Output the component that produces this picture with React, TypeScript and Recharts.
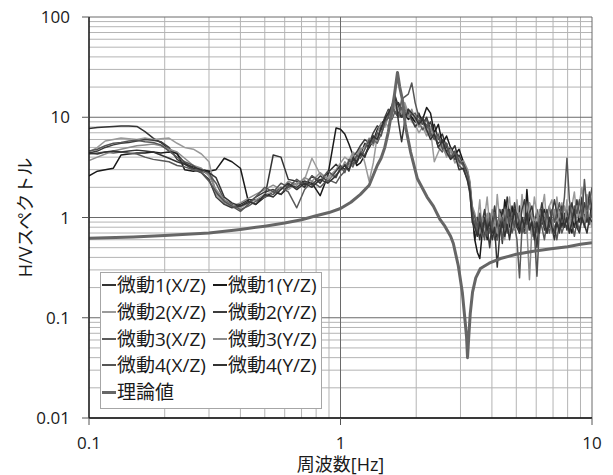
import React from 'react';
import { LineChart, Line, XAxis, YAxis, CartesianGrid, Legend } from 'recharts';

const FONT = "'Open Sans', 'Noto Sans CJK JP', sans-serif";

// frequency samples [Hz]
const freqs = [
  0.1, 0.108, 0.116, 0.125, 0.134, 0.144, 0.155, 0.167, 0.18, 0.193, 0.208, 0.224, 0.24, 0.26, 0.28, 0.3,
  0.32, 0.345, 0.37, 0.4, 0.43, 0.46, 0.5, 0.54, 0.58, 0.62, 0.67, 0.72, 0.77, 0.83, 0.89, 0.96,
  1.0, 1.04, 1.08, 1.12, 1.16, 1.2, 1.25, 1.3, 1.35, 1.4, 1.45, 1.5, 1.55, 1.6, 1.65, 1.7, 1.75, 1.8,
  1.86, 1.92, 1.98, 2.05, 2.12, 2.2, 2.28, 2.36, 2.45, 2.54, 2.64, 2.74, 2.85, 2.96, 3.08,
  3.2, 3.27, 3.34, 3.42, 3.5, 3.58, 3.66, 3.74, 3.83, 3.92, 4.01, 4.1, 4.2, 4.3, 4.4, 4.5, 4.6, 4.7, 4.81, 4.92,
  5.03, 5.15, 5.27, 5.39, 5.51, 5.64, 5.77, 5.9, 6.04, 6.18, 6.32, 6.47, 6.62, 6.77, 6.93, 7.09, 7.25, 7.42, 7.59, 7.77,
  7.95, 8.13, 8.32, 8.51, 8.71, 8.91, 9.12, 9.33, 9.55, 9.77, 10,
];

// 微動1(X/Z)
const d1 = [
  7.7, 7.9, 8.0, 8.1, 8.2, 8.2, 8.1, 7.2, 6.2, 5.6, 4.8, 4.3, 3.5, 3.1, 3.0, 2.9, 1.8, 1.4, 1.3, 1.35, 1.5, 1.5, 1.6, 4.2, 4.0, 2.4, 2.3, 2.0, 2.6, 2.2, 2.8, 3.4,
  3.0, 3.4, 3.0, 3.8, 3.5, 4.2, 5.5, 5.0, 6.5, 6.0, 8.0, 9.0, 10.5, 11, 12.5, 14, 12, 10, 11.5, 10, 9, 11, 8.5, 10, 7.5, 8.5, 6, 6.8, 5, 4.5, 5.2, 3.6, 3.4,
  2.6, 2.0, 1.1, 0.6, 0.8, 0.6, 0.95, 0.65, 0.8, 1.1, 0.75, 0.9, 0.6, 0.85, 1.2, 0.9, 1.6, 1.0, 0.75, 1.1,
  0.8, 1.3, 0.9, 0.7, 1.0, 1.4, 0.9, 0.8, 1.2, 0.9, 1.1, 0.75, 1.0, 1.3, 0.85, 0.7, 1.0, 1.2, 0.8, 1.1,
  0.9, 1.3, 0.95, 0.8, 1.2, 0.9, 1.6, 1.0, 1.3, 0.9, 1.4,
];
// 微動1(Y/Z)
const d2 = [
  2.6, 2.9, 3.0, 3.1, 4.2, 4.3, 4.4, 4.4, 4.5, 4.4, 4.5, 4.4, 3.0, 2.9, 3.0, 2.9, 3.0, 3.9, 3.6, 3.1, 1.45, 1.35, 1.6, 1.8, 1.7, 2.0, 2.2, 2.3, 2.2, 1.65, 2.6, 7.8,
  7.6, 6.8, 5.4, 4.2, 3.3, 3.5, 4.2, 5.0, 5.8, 7.5, 8.5, 9.5, 11, 12, 13, 11, 10, 11, 9.5, 10, 9, 10.5, 9.5, 12.5, 11, 7, 8.5, 5.5, 6.5, 5, 4.2, 4.8, 3.6,
  2.8, 2.2, 1.2, 0.6, 0.45, 0.39, 0.7, 0.9, 0.6, 0.85, 0.7, 1.0, 0.75, 1.2, 0.8, 1.5, 1.1, 0.8, 1.3, 0.9,
  1.1, 0.7, 1.0, 0.8, 1.9, 0.9, 0.75, 1.0, 0.8, 1.1, 0.85, 1.2, 0.7, 0.95, 0.8, 1.1, 0.9, 0.75, 1.0, 0.8,
  1.2, 0.85, 0.7, 1.0, 0.8, 1.1, 0.9, 1.3, 0.9, 1.5, 1.0,
];
// 微動2(X/Z)
const d3 = [
  4.5, 5.0, 5.8, 6.0, 6.2, 6.1, 6.0, 6.2, 6.0, 6.1, 6.2, 5.5, 5.0, 4.8, 4.3, 3.6, 1.7, 1.4, 1.3, 1.25, 1.4, 1.5, 1.7, 1.8, 2.0, 1.9, 2.2, 2.4, 3.9, 2.7, 2.5, 3.0,
  3.5, 4.0, 3.7, 4.5, 4.2, 5.0, 3.5, 2.3, 3.5, 6.5, 7.5, 9.0, 8, 11, 13, 10, 12, 14, 11, 9, 8.5, 7, 8, 6.5, 7.5, 3.6, 4.5, 5.5, 4, 4.6, 3.5, 4.0, 3.2,
  2.5, 1.9, 1.3, 0.75, 0.9, 1.5, 0.7, 1.0, 1.6, 0.8, 1.1, 0.7, 1.7, 0.9, 1.0, 0.6, 1.2, 1.6, 0.75, 1.0,
  1.5, 0.8, 1.7, 1.0, 0.7, 1.4, 0.9, 1.6, 1.1, 0.7, 1.2, 1.7, 0.8, 1.3, 1.5, 0.9, 1.6, 1.0, 1.4, 0.8,
  1.5, 0.9, 1.3, 1.8, 1.0, 1.4, 2.0, 1.1, 1.7, 1.2, 1.6,
];
// 微動2(Y/Z)
const d4 = [
  4.4, 4.6, 5.0, 5.3, 5.5, 5.6, 5.8, 6.0, 5.9, 5.7, 5.0, 3.8, 3.4, 3.0, 2.8, 2.4, 1.6, 1.35, 1.25, 1.3, 1.4, 1.6, 1.8, 1.9, 1.7, 2.1, 2.0, 2.3, 2.1, 2.6, 2.3, 2.9,
  3.3, 3.0, 3.6, 4.0, 4.5, 5.2, 6.0, 5.5, 7.0, 8.2, 7.5, 10, 12, 11, 16, 13, 10, 12, 11, 9.5, 8, 9, 10, 8, 9, 6.5, 5.5, 6, 4.5, 5, 3.8, 4.2, 3.4,
  2.9, 2.1, 1.1, 0.8, 1.0, 0.7, 0.9, 1.2, 0.8, 0.5, 0.9, 1.3, 0.8, 1.0, 0.55, 1.1, 0.8, 1.2, 0.9, 1.4,
  1.0, 0.8, 1.2, 1.5, 0.9, 1.1, 1.3, 0.9, 0.5, 1.0, 1.4, 1.0, 1.2, 0.8, 1.1, 1.5, 1.1, 0.9, 1.3, 1.0,
  0.75, 1.1, 1.4, 1.0, 1.5, 1.1, 0.9, 1.4, 1.1, 1.8, 1.2,
];
// 微動3(X/Z)
const d5 = [
  4.3, 4.4, 4.5, 4.4, 4.5, 4.4, 4.3, 4.0, 3.8, 3.7, 3.6, 3.3, 3.2, 3.0, 2.9, 2.7, 2.2, 1.5, 1.35, 1.2, 1.3, 1.45, 1.6, 1.7, 2.0, 1.8, 1.25, 1.9, 2.3, 2.0, 2.4, 2.2,
  2.6, 2.9, 3.5, 3.2, 4.0, 4.6, 4.2, 5.2, 6.0, 5.5, 6.8, 8.5, 10, 9.5, 11.5, 10, 12.5, 11, 12, 10.5, 11, 9, 7.5, 8.5, 6.5, 7, 5, 4.5, 5.5, 4, 4.4, 3.3, 3.0,
  2.4, 1.7, 1.0, 0.9, 0.7, 1.0, 0.75, 0.6, 1.0, 0.7, 0.85, 0.6, 0.6, 0.8, 0.6, 0.9, 0.7, 1.0, 0.7, 0.85,
  0.6, 0.25, 0.8, 0.7, 0.7, 0.9, 0.65, 0.9, 0.7, 1.0, 0.8, 0.6, 0.9, 0.7, 0.95, 0.8, 0.6, 0.9, 0.7, 0.85,
  1.0, 0.7, 0.9, 0.65, 0.9, 0.75, 1.0, 0.8, 1.1, 0.85, 1.2,
];
// 微動3(Y/Z)
const d6 = [
  3.7, 4.0, 4.3, 4.6, 4.8, 5.0, 5.2, 5.3, 5.4, 5.2, 4.8, 4.5, 3.9, 3.3, 3.1, 2.6, 1.9, 1.5, 1.3, 1.4, 1.55, 1.7, 1.9, 2.1, 1.9, 2.3, 2.1, 2.5, 2.3, 2.8, 2.4, 2.7,
  2.9, 3.6, 3.2, 4.3, 3.8, 4.8, 5.0, 6.2, 5.2, 7.0, 8.8, 8.0, 11.5, 10, 14, 12, 11, 13, 10, 12, 9.5, 8, 9, 7, 8, 6, 6.5, 5, 4.2, 4.8, 4, 3.4, 3.7,
  3.0, 2.3, 1.3, 1.1, 0.85, 0.7, 1.0, 0.8, 1.1, 0.8, 1.2, 0.9, 0.7, 1.1, 0.85, 1.2, 0.9, 0.7, 1.0, 0.75,
  0.9, 1.1, 0.8, 1.0, 0.8, 0.24, 0.8, 1.0, 0.85, 1.2, 0.9, 1.1, 0.8, 1.0, 0.7, 1.2, 0.85, 1.1, 0.9, 1.3,
  1.0, 0.8, 1.1, 0.9, 1.3, 1.0, 1.2, 0.9, 1.4, 1.0, 0.8,
];
// 微動4(X/Z)
const d7 = [
  4.6, 4.8, 5.2, 5.5, 5.6, 5.8, 5.9, 5.7, 5.6, 5.3, 4.6, 4.0, 3.6, 3.3, 2.8, 2.3, 1.8, 1.45, 1.3, 1.15, 1.35, 1.6, 2.0, 1.8, 2.2, 2.0, 2.4, 2.1, 2.6, 2.3, 2.9, 2.5,
  3.2, 2.8, 3.8, 3.4, 4.2, 3.9, 4.8, 6.0, 5.5, 7.0, 6.5, 9.0, 10, 13, 11, 10, 15, 16, 17, 22, 14, 10, 8.5, 9.5, 7, 6, 6.8, 4.8, 5.5, 3.9, 4.6, 3.7, 3.3,
  2.7, 2.0, 1.2, 1.0, 0.8, 1.1, 0.8, 0.9, 0.65, 1.0, 0.8, 1.1, 0.9, 0.7, 1.0, 0.8, 1.2, 0.9, 1.0, 0.8,
  1.1, 0.9, 0.7, 1.0, 0.85, 1.1, 0.9, 0.7, 0.26, 0.8, 1.0, 0.8, 1.1, 0.9, 1.2, 0.9, 1.1, 1.4, 1.0, 1.6,
  3.9, 1.5, 1.0, 1.3, 1.1, 1.5, 1.0, 2.4, 1.2, 1.4, 2.0,
];
// 微動4(Y/Z)
const d8 = [
  4.4, 4.3, 4.5, 4.6, 4.5, 4.6, 4.7, 4.6, 4.5, 4.2, 3.9, 3.6, 3.4, 3.2, 3.0, 2.8, 2.5, 1.6, 1.4, 1.3, 1.45, 1.35, 1.7, 1.6, 1.9, 2.2, 1.9, 2.2, 2.0, 2.4, 2.2, 2.6,
  3.0, 3.3, 2.9, 3.9, 3.6, 4.4, 4.0, 5.4, 6.5, 6.0, 7.8, 9.5, 11, 13, 16.5, 9, 5.7, 9, 12, 11, 10, 8.5, 9.5, 7.5, 6, 6.8, 5, 5.8, 4.5, 3.8, 4.2, 3.0, 3.1,
  2.3, 1.8, 0.9, 0.8, 0.65, 0.9, 0.7, 1.0, 0.75, 0.9, 0.6, 0.8, 0.32, 0.7, 0.9, 0.65, 0.85, 0.6, 0.9, 1.2,
  0.8, 0.7, 1.0, 0.8, 1.1, 0.75, 0.9, 0.6, 0.9, 0.7, 1.2, 0.9, 0.7, 1.0, 0.8, 0.6, 0.9, 0.7, 1.1, 0.8,
  1.0, 0.7, 0.9, 1.2, 0.8, 0.7, 1.0, 0.85, 0.7, 1.0, 0.9,
];

// 理論値
const thF = [
  0.1, 0.15, 0.2, 0.3, 0.4, 0.5, 0.6, 0.7, 0.8, 0.9, 1.0, 1.1, 1.2, 1.3, 1.4, 1.45, 1.5, 1.55, 1.6, 1.64,
  1.685, 1.72, 1.76, 1.81, 1.9, 2.02, 2.21, 2.34, 2.49, 2.6, 2.74, 2.81, 2.94, 3.05, 3.12, 3.17, 3.2, 3.23, 3.28, 3.35,
  3.45, 3.6, 3.9, 4.33, 5.0, 5.84, 7.0, 8.0, 9.0, 10,
];
const thV = [
  0.62, 0.64, 0.66, 0.7, 0.76, 0.82, 0.88, 0.95, 1.04, 1.12, 1.23, 1.42, 1.7, 2.1, 3.3, 3.9, 5.0, 7.2, 11.5, 17,
  28, 20, 15.3, 8.3, 4.5, 2.45, 1.6, 1.3, 0.95, 0.82, 0.65, 0.55, 0.33, 0.18, 0.1, 0.065, 0.04, 0.06, 0.11, 0.18,
  0.25, 0.31, 0.35, 0.39, 0.43, 0.46, 0.49, 0.51, 0.54, 0.56,
];

const seriesNames = ['微動1(X/Z)', '微動1(Y/Z)', '微動2(X/Z)', '微動2(Y/Z)', '微動3(X/Z)', '微動3(Y/Z)', '微動4(X/Z)', '微動4(Y/Z)'];
const seriesColors = ['#333333', '#1a1a1a', '#9a9a9a', '#3c3c3c', '#5a5a5a', '#8c8c8c', '#555555', '#333333'];
const theoryName = '理論値';
const theoryColor = '#666666';

const xTicks = [0.1, 1, 10];
const yTicks = [0.01, 0.1, 1, 10, 100];
const xMinor = [0.2, 0.3, 0.4, 0.5, 0.6, 0.7, 0.8, 0.9, 2, 3, 4, 5, 6, 7, 8, 9];
const yMinor = [
  0.02, 0.03, 0.04, 0.05, 0.06, 0.07, 0.08, 0.09,
  0.2, 0.3, 0.4, 0.5, 0.6, 0.7, 0.8, 0.9,
  2, 3, 4, 5, 6, 7, 8, 9,
  20, 30, 40, 50, 60, 70, 80, 90,
];

const micro = [d1, d2, d3, d4, d5, d6, d7, d8];

const rows: any[] = [
  ...freqs.map((f, i) => {
    const r: any = { f };
    micro.forEach((d, k) => {
      r['s' + (k + 1)] = d[i];
    });
    return r;
  }),
  ...thF.map((f, i) => ({ f, th: thV[i] })),
].sort((a, b) => a.f - b.f);

const fmt = (v: number) => String(v);

const XTitle = (props: any) => {
  const vb = props.viewBox || { x: 89, y: 418, width: 503, height: 57 };
  return (
    <text x={vb.x + vb.width / 2} y={vb.y + 46} textAnchor="middle" dominantBaseline="central"
      fontFamily={FONT} fontSize={18} fill="#1a1a1a">
      周波数[Hz]
    </text>
  );
};

const YTitle = (props: any) => {
  const vb = props.viewBox || { x: 0, y: 17, width: 89, height: 401 };
  const cx = 25;
  const cy = vb.y + vb.height / 2;
  return (
    <text x={cx} y={cy} textAnchor="middle" dominantBaseline="central" transform={`rotate(-90, ${cx}, ${cy})`}
      fontFamily={FONT} fontSize={18} fill="#1a1a1a">
      H/Vスペクトル
    </text>
  );
};

const rowCenters = [12, 39, 66, 92, 119];

const LegendBox = () => (
  <div style={{
    width: 222, height: 137, boxSizing: 'border-box', border: '1px solid #a6a6a6', background: '#fff',
    position: 'relative', fontFamily: FONT, fontSize: 19, color: '#1a1a1a', lineHeight: '26px',
  }}>
    {seriesNames.map((n, k) => {
      const col = k % 2;
      const row = Math.floor(k / 2);
      return (
        <div key={n} style={{ position: 'absolute', left: col ? 112 : 1, top: rowCenters[row] - 13, height: 26, display: 'flex', alignItems: 'center', whiteSpace: 'nowrap' }}>
          <span style={{ display: 'inline-block', width: 14, height: 2, background: seriesColors[k], marginRight: 1 }} />
          <span>{n}</span>
        </div>
      );
    })}
    <div style={{ position: 'absolute', left: 1, top: rowCenters[4] - 13, height: 26, display: 'flex', alignItems: 'center', whiteSpace: 'nowrap' }}>
      <span style={{ display: 'inline-block', width: 14, height: 3, background: theoryColor, marginRight: 1 }} />
      <span>{theoryName}</span>
    </div>
  </div>
);

export default function App() {
  return (
    <div style={{ position: 'absolute', left: 0, top: 0, width: 613, height: 475 }}>
      <LineChart width={613} height={475} data={rows} margin={{ top: 17, right: 21, bottom: 0, left: 0 }}>
        <CartesianGrid horizontalValues={yMinor} verticalValues={xMinor} stroke="#b4b4b4" strokeWidth={1} />
        <CartesianGrid horizontalValues={yTicks} verticalValues={xTicks} stroke="#6a6a6a" strokeWidth={1} />
        <XAxis
          dataKey="f" type="number" scale="log" domain={[0.1, 10]} ticks={xTicks} interval={0} allowDataOverflow
          tickFormatter={fmt} height={57} tickSize={7} tickMargin={12}
          axisLine={{ stroke: '#111', strokeWidth: 1.3 }} tickLine={{ stroke: '#555' }}
          tick={{ fontFamily: FONT, fontSize: 17, fill: '#1a1a1a' }}
          label={{ content: XTitle }}
        />
        <YAxis
          type="number" scale="log" domain={[0.01, 100]} ticks={yTicks} interval={0} allowDataOverflow
          tickFormatter={fmt} width={89} tickSize={7} tickMargin={12}
          axisLine={{ stroke: '#111', strokeWidth: 1.3 }} tickLine={{ stroke: '#555' }}
          tick={{ fontFamily: FONT, fontSize: 17, fill: '#1a1a1a' }}
          label={{ content: YTitle }}
        />
        {seriesNames.map((n, k) => (
          <Line key={n} name={n} dataKey={'s' + (k + 1)} stroke={seriesColors[k]} strokeWidth={1.5}
            dot={false} activeDot={false} connectNulls isAnimationActive={false} strokeLinejoin="round" />
        ))}
        <Line name={theoryName} dataKey="th" stroke={theoryColor} strokeWidth={3} dot={false} activeDot={false}
          connectNulls isAnimationActive={false} strokeLinejoin="round" />
        <Legend layout="horizontal" verticalAlign="middle" align="center" content={LegendBox}
          wrapperStyle={{ left: 100, top: 272, width: 222, height: 137 }} />
      </LineChart>
    </div>
  );
}
